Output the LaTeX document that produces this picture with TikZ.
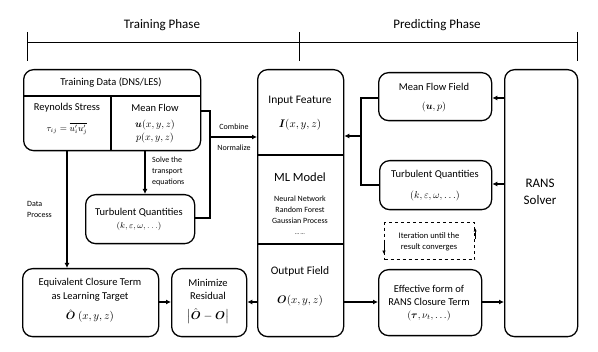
\RequirePackage{fix-cm}
\documentclass[tikz,border=0pt]{standalone}
\usepackage{amsmath}
\usepackage{fontspec}
\setmainfont{Carlito}
\usetikzlibrary{arrows.meta,calc}
\newcommand\fsz[2]{\fontsize{#1}{#2}\selectfont}
\begin{document}
\begin{tikzpicture}[x=1pt,y=-1pt,
  box/.style={draw,line width=1.3pt,rounded corners=10pt,anchor=north west,inner sep=0pt},
  conn/.style={line width=1.6pt},
  arr/.style={conn,-{Latex[length=5pt,width=5pt]}},
  txt/.style={inner sep=0pt,font=\fsz{10.5}{12}},
  small/.style={inner sep=0pt,font=\fsz{8}{11}},
  big/.style={inner sep=0pt,font=\fsz{11.5}{13}}]
\useasboundingbox (0,0) rectangle (598,352);
% phase bars
\node[inner sep=0pt,font=\fsz{13}{15}] (tp) at (162,25) {Training Phase};
\node[inner sep=0pt,font=\fsz{13}{15}] (pp) at (437,25) {Predicting Phase};
\coordinate (bl) at (27,43); \coordinate (bm) at (299,43); \coordinate (br) at (577,43);
\draw[line width=1pt] (bl) -- (br);
\foreach \c in {bl,bm,br} \draw[line width=1pt] ($(\c)+(0,-11)$) -- ($(\c)+(0,18)$);
% boxes
\node[box,minimum width=177pt,minimum height=81pt] (td) at (23,69) {};
\draw[line width=1.1pt] (23,96) -- (200,96);
\draw[line width=1.1pt] (111,96) -- (111,150);
\node[box,minimum width=109pt,minimum height=49pt] (tql) at (85,194) {};
\node[box,minimum width=136pt,minimum height=68pt] (eq) at (22,268) {};
\node[box,minimum width=75pt,minimum height=68pt] (mr) at (171,268) {};
\node[box,minimum width=86pt,minimum height=267pt] (ml) at (257,69) {};
\draw[line width=1.1pt] (257,155) -- (343,155);
\draw[line width=1.1pt] (257,244) -- (343,244);
\node[box,minimum width=113pt,minimum height=48pt] (mf) at (378,72) {};
\node[box,minimum width=112pt,minimum height=49pt] (tqr) at (379,160) {};
\node[box,minimum width=103pt,minimum height=66pt] (ef) at (378,269) {};
\node[box,minimum width=73pt,minimum height=267pt] (rans) at (504,69) {};
\node[draw,dashed,line width=1.1pt,anchor=north west,inner sep=0pt,minimum width=90pt,minimum height=37pt] (it) at (384,222) {};
% texts
\node[txt] (tdT) at (111,83) {Training Data (DNS/LES)};
\node[txt] (rsT) at (67,108) {Reynolds Stress};
\node[inner sep=0pt,font=\fsz{9}{11}] (rsF) at (67,129) {$\tau_{ij}=\overline{u_i'u_j'}$};
\node[txt] (mfT) at (155,108) {Mean Flow};
\node[inner sep=0pt,font=\fsz{10}{12}] (mfU) at (155,125) {$\boldsymbol{u}(x,y,z)$};
\node[inner sep=0pt,font=\fsz{10}{12}] (mfP) at (155,138) {$p(x,y,z)$};
\node[small] (cb) at (234,127) {Combine};
\node[small] (nm) at (234,148) {Normalize};
\node[small,align=left,anchor=west] (svT) at (152,171) {Solve the\\transport\\equations};
\node[small,align=left,anchor=west] (dpT) at (27,209) {Data\\Process};
\node[txt] (tqlT) at (139,213) {Turbulent Quantities};
\node[inner sep=0pt,font=\fsz{8.5}{10}] (tqlF) at (139,226) {$(k,\varepsilon,\omega,\ldots)$};
\node[txt] (eqT1) at (90,283) {Equivalent Closure Term};
\node[txt] (eqT2) at (90,297) {as Learning Target};
\node[inner sep=0pt,font=\fsz{11}{13}] (eqF) at (90,316) {$\hat{\boldsymbol{O}}\ (x,y,z)$};
\node[txt] (mrT1) at (208,283) {Minimize};
\node[txt] (mrT2) at (208,296) {Residual};
\node[inner sep=0pt,font=\fsz{11.5}{13}] (mrF) at (208,316) {$\bigl|\hat{\boldsymbol{O}}-\boldsymbol{O}\bigr|$};
\node[big] (ifT) at (300,101) {Input Feature};
\node[inner sep=0pt,font=\fsz{11}{13}] (ifF) at (300,125) {$\boldsymbol{I}(x,y,z)$};
\node[inner sep=0pt,font=\fsz{12.5}{15}] (mlT) at (300,177) {ML Model};
\node[small,align=center] (mlL) at (300,215) {Neural Network\\Random Forest\\Gaussian Process\\\fsz{6}{11}… …};
\node[big] (ofT) at (300,271) {Output Field};
\node[inner sep=0pt,font=\fsz{11}{13}] (ofF) at (300,301) {$\boldsymbol{O}(x,y,z)$};
\node[txt] (mffT) at (434,87) {Mean Flow Field};
\node[inner sep=0pt,font=\fsz{10}{12}] (mffF) at (434,107) {$(\boldsymbol{u},p)$};
\node[txt] (tqrT) at (435,175) {Turbulent Quantities};
\node[inner sep=0pt,font=\fsz{10}{12}] (tqrF) at (435,196) {$(k,\varepsilon,\omega,\ldots)$};
\node[inner sep=0pt,font=\fsz{8.5}{11},align=center] (itT) at (429,241.5) {Iteration until the\\result converges};
\node[txt] (efT1) at (429,289) {Effective form of};
\node[txt] (efT2) at (429,302) {RANS Closure Term};
\node[inner sep=0pt,font=\fsz{10}{12}] (efF) at (429,316) {$(\boldsymbol{\tau},\nu_t,\ldots)$};
\node[inner sep=0pt,font=\fsz{13}{17},align=center] (ransT) at (540,192) {RANS\\Solver};
% connectors
\coordinate (jA) at (210,111); \coordinate (jB) at (210,218); \coordinate (jC) at (210,137);
\draw[conn] (td.east |- jA) -- (jA) -- (jB) -- (tql.east |- jB);
\draw[arr] (jC) -- (ml.west |- jC);
\coordinate (dp) at (67,150);
\draw[arr] (td.south -| dp) -- (eq.north -| dp);
\coordinate (sv) at (145,150);
\draw[arr] (td.south -| sv) -- (tql.north -| sv);
\coordinate (r) at (0,302);
\draw[arr] (eq.east |- r) -- (mr.west |- r);
\draw[arr] (ml.west |- r) -- (mr.east |- r);
\draw[arr] (ml.east |- r) -- (ef.west |- r);
\draw[arr] (ef.east |- r) -- (rans.west |- r);
\coordinate (ra) at (0,98); \coordinate (rb) at (0,184);
\draw[arr] (rans.west |- ra) -- (mf.east |- ra);
\draw[arr] (rans.west |- rb) -- (tqr.east |- rb);
\coordinate (jD) at (361,98); \coordinate (jE) at (361,185); \coordinate (jF) at (361,136);
\draw[conn] (mf.west |- jD) -- (jD) -- (jE) -- (tqr.west |- jE);
\draw[arr] (jF) -- (ml.east |- jF);
% iteration arrows
\draw[line width=1pt,-{Latex[length=3.5pt,width=3.5pt]}] ($(it.west)+(0,2)$) -- ($(it.south west)+(0,-6)$);
\draw[line width=1pt,-{Latex[length=3.5pt,width=3.5pt]}] ($(it.east)+(0,-2)$) -- ($(it.north east)+(0,6)$);
\end{tikzpicture}
\end{document}
